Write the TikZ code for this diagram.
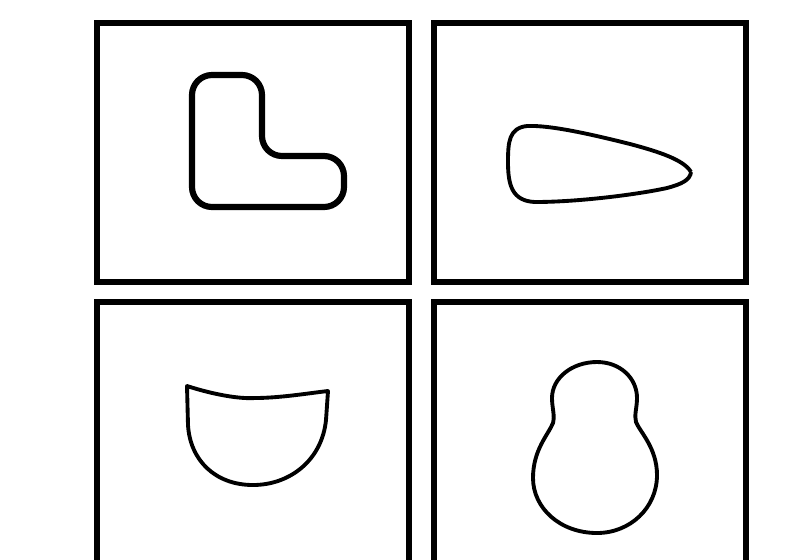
\documentclass[tikz,border=0pt]{standalone}
\usepackage{tikz}
\usetikzlibrary{positioning}

\begin{document}
\begin{tikzpicture}[x=0.02cm, y=-0.02cm,
    frame/.style={draw=black, line width=2.9pt},
    figline/.style={draw=black, line width=2.2pt, line join=round},
    boldline/.style={draw=black, line width=3.5pt, line join=round}]
        \useasboundingbox (0,0) rectangle (787,559);
        \clip (0,0) rectangle (787,559);
        \fill[white] (0,0) rectangle (787,559);

        \draw[frame] (97,23) rectangle (409,282);
        \draw[frame] (434,23) rectangle (746,282);
        \draw[frame] (97,302) rectangle (409,575);
        \draw[frame] (434,302) rectangle (746,575);

        \draw[boldline, rounded corners=0.4cm] (192,75) -- (262,75) -- (262,156) -- (344,156) -- (344,207) -- (192,207) -- cycle;

        \draw[figline] (691,172) .. controls (684,160) and (660,152) .. (630,144)
            .. controls (590,134) and (550,125) .. (527,126)
            .. controls (509,128) and (508,142) .. (508,162)
            .. controls (508,185) and (512,201) .. (535,202)
            .. controls (580,202) and (640,194) .. (667,188)
            .. controls (682,184) and (690,180) .. (691,172);

        \draw[figline] (187,386) .. controls (215,395) and (240,399) .. (255,398)
            .. controls (280,398) and (310,393) .. (328,391) -- (326,420)
            .. controls (322,460) and (290,485) .. (253,485)
            .. controls (215,485) and (190,460) .. (188,425) -- cycle;

        \draw[figline] (597,362) .. controls (620,362) and (637,378) .. (637,398)
            .. controls (637,408) and (634,415) .. (636,422)
            .. controls (640,432) and (657,448) .. (657,475)
            .. controls (657,508) and (630,533) .. (597,533)
            .. controls (560,533) and (533,508) .. (533,478)
            .. controls (533,450) and (548,435) .. (553,423)
            .. controls (555,415) and (552,408) .. (552,398)
            .. controls (552,378) and (572,362) .. (597,362);
      \end{tikzpicture}
\end{document}
